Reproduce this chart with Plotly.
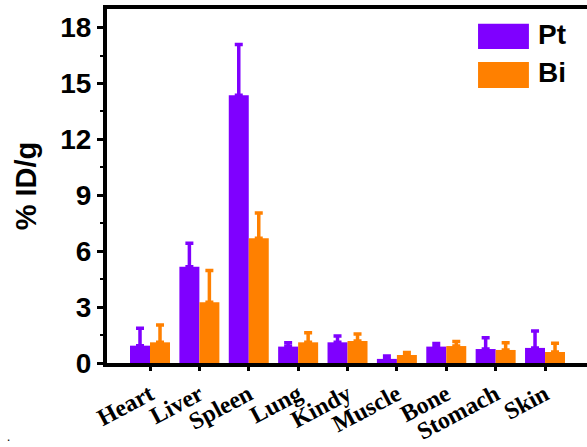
import plotly.graph_objects as go

organs = ["Heart", "Liver", "Spleen", "Lung", "Kindy", "Muscle", "Bone", "Stomach", "Skin"]
pt_vals = [0.93, 5.16, 14.37, 0.88, 1.11, 0.22, 0.88, 0.75, 0.81]
pt_err = [0.93, 1.27, 2.73, 0.21, 0.34, 0.16, 0.16, 0.61, 0.91]
bi_vals = [1.11, 3.26, 6.70, 1.11, 1.18, 0.43, 0.91, 0.70, 0.59]
bi_err = [0.93, 1.70, 1.35, 0.52, 0.38, 0.14, 0.25, 0.39, 0.47]
y_ticks = [0, 3, 6, 9, 12, 15, 18]

PT_COLOR = "#7F00FF"
BI_COLOR = "#FF8000"

fig = go.Figure()
fig.add_trace(go.Bar(
    x=organs, y=pt_vals, name="Pt", marker=dict(color=PT_COLOR, line=dict(width=0)),
    error_y=dict(type="data", array=pt_err, arrayminus=[0]*len(pt_err), symmetric=False,
                 color=PT_COLOR, thickness=3.5, width=4),
))
fig.add_trace(go.Bar(
    x=organs, y=bi_vals, name="Bi", marker=dict(color=BI_COLOR, line=dict(width=0)),
    error_y=dict(type="data", array=bi_err, arrayminus=[0]*len(bi_err), symmetric=False,
                 color=BI_COLOR, thickness=3.5, width=4),
))

fig.update_layout(
    width=587, height=447,
    margin=dict(l=107, r=0, t=9, b=84, autoexpand=False),
    barmode="group", bargap=0.19, bargroupgap=0,
    plot_bgcolor="white", paper_bgcolor="white",
    showlegend=False,
    xaxis=dict(
        range=[-0.871, 8.85], automargin=False, ticklabeloverflow="allow",
        showgrid=False, zeroline=False,
        showline=True, linecolor="black", linewidth=4, mirror=True,
        ticks="outside", ticklen=4, tickwidth=3, tickcolor="black",
        tickangle=-28,
        tickfont=dict(family="Liberation Serif", size=24, color="black", weight="bold"),
    ),
    yaxis=dict(
        range=[0, 19.0], automargin=False,
        tickvals=y_ticks,
        showgrid=False, zeroline=False,
        showline=True, linecolor="black", linewidth=4, mirror=False,
        ticks="outside", ticklen=6, tickwidth=3, tickcolor="black",
        minor=dict(dtick=1.5, tick0=0, ticks="outside", ticklen=3, tickwidth=2, tickcolor="black"),
        tickfont=dict(family="Liberation Sans", size=28, color="black", weight="bold"),
        title=dict(text="% ID/g", standoff=16,
                   font=dict(family="Liberation Sans", size=29, color="black", weight="bold")),
    ),
)

# legend drawn with swatches and text
legend_items = [("Pt", PT_COLOR, 0.887, 0.958, 0.927), ("Bi", BI_COLOR, 0.777, 0.850, 0.822)]
for label, col, y0, y1, yc in legend_items:
    fig.add_shape(type="rect", xref="paper", yref="paper", x0=0.773, x1=0.879, y0=y0, y1=y1,
                  fillcolor=col, line=dict(width=0))
    fig.add_annotation(xref="paper", yref="paper", x=0.893, y=yc, text=label, showarrow=False,
                       xanchor="left", yanchor="middle",
                       font=dict(family="Liberation Sans", size=28, color="black", weight="bold"))

fig.add_annotation(xref="paper", yref="paper", x=-0.206, y=-0.209, text=".", showarrow=False,
                   xanchor="center", yanchor="middle", font=dict(size=12, color="black"))

fig.write_html("out.html")
